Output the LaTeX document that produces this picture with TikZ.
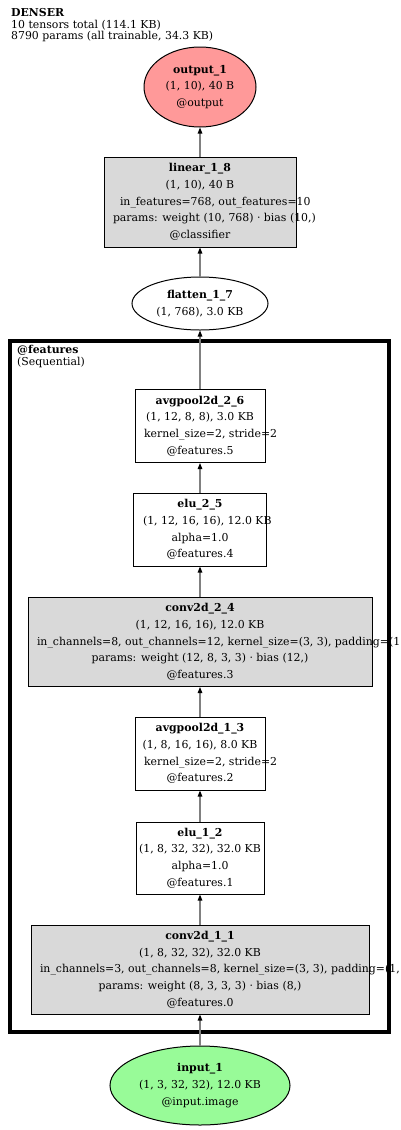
\documentclass[tikz,border=0pt]{standalone}
\usepackage{fontspec}
\setmainfont{DejaVu Serif}
\usetikzlibrary{arrows.meta,shapes.geometric}
\definecolor{outred}{RGB}{255,153,153}
\definecolor{ingreen}{RGB}{152,251,152}
\definecolor{boxgray}{RGB}{217,217,217}
\definecolor{edgegray}{RGB}{128,128,128}
\newcommand{\gvfont}{\fontsize{10.9pt}{16.7pt}\selectfont}
\newcommand{\wideline}[2]{\makebox[#1pt][l]{#2}}

\begin{document}
\begin{tikzpicture}[x=1pt,y=-1pt,
  layer/.style={draw, line width=1pt, inner sep=0pt, align=center, font=\gvfont},
  paramlayer/.style={layer, fill=boxgray},
  tensor/.style={layer, ellipse},
  edge/.style={draw=edgegray, line width=1.2pt, -{Triangle[length=6pt,width=4.5pt,black]}}]
\useasboundingbox (0,0) rectangle (400,1130);
% Header
\node[anchor=north west, inner sep=0pt, align=left, font=\fontsize{10.9pt}{11.8pt}\selectfont] (title) at (11,8)
  {\textbf{DENSER}\\10 tensors total (114.1 KB)\\8790 params (all trainable, 34.3 KB)};
% Cluster @features
\draw[line width=3.7pt] (10,341) rectangle (389,1032);
\node[anchor=north west, inner sep=0pt, align=left, font=\fontsize{10.9pt}{11.8pt}\selectfont] (featlabel) at (17,345)
  {\textbf{@features}\\(Sequential)};
% Output and classifier
\node[tensor, fill=outred, minimum width=112, minimum height=80] (output) at (200,87)
  {\textbf{output\_1}\\(1, 10), 40 B\\@output};
\node[paramlayer, minimum width=192, minimum height=90] (linear) at (200,202)
  {\textbf{linear\_1\_8}\\(1, 10), 40 B\\\wideline{160}{in\_features=768, out\_features=10}\\\wideline{174}{params: weight (10, 768) · bias (10,)}\\@classifier};
\node[tensor, minimum width=136, minimum height=53] (flatten) at (200,303.5)
  {\textbf{flatten\_1\_7}\\(1, 768), 3.0 KB};
% Features
\node[layer, minimum width=130, minimum height=73] (pool2) at (200,426)
  {\textbf{avgpool2d\_2\_6}\\(1, 12, 8, 8), 3.0 KB\\\wideline{112}{kernel\_size=2, stride=2}\\@features.5};
\node[layer, minimum width=133, minimum height=73] (elu2) at (200,529.5)
  {\textbf{elu\_2\_5}\\\wideline{114}{(1, 12, 16, 16), 12.0 KB}\\alpha=1.0\\@features.4};
\node[paramlayer, minimum width=344, minimum height=89] (conv2) at (200,642)
  {\textbf{conv2d\_2\_4}\\(1, 12, 16, 16), 12.0 KB\\\wideline{326}{in\_channels=8, out\_channels=12, kernel\_size=(3, 3), padding=(1}\\params: weight (12, 8, 3, 3) · bias (12,)\\@features.3};
\node[layer, minimum width=130, minimum height=73] (pool1) at (200,753.5)
  {\textbf{avgpool2d\_1\_3}\\(1, 8, 16, 16), 8.0 KB\\\wideline{112}{kernel\_size=2, stride=2}\\@features.2};
\node[layer, minimum width=128, minimum height=72] (elu1) at (200,858)
  {\textbf{elu\_1\_2}\\(1, 8, 32, 32), 32.0 KB\\alpha=1.0\\@features.1};
\node[paramlayer, minimum width=338, minimum height=89] (conv1) at (200,969.5)
  {\textbf{conv2d\_1\_1}\\(1, 8, 32, 32), 32.0 KB\\\wideline{320}{in\_channels=3, out\_channels=8, kernel\_size=(3, 3), padding=(1,}\\params: weight (8, 3, 3, 3) · bias (8,)\\@features.0};
% Input
\node[tensor, fill=ingreen, minimum width=180, minimum height=79] (input) at (200,1085.5)
  {\textbf{input\_1}\\(1, 3, 32, 32), 12.0 KB\\@input.image};
% Edges
\draw[edge] (linear) -- (output);
\draw[edge] (flatten) -- (linear);
\draw[edge] (pool2) -- (flatten);
\draw[edge] (elu2) -- (pool2);
\draw[edge] (conv2) -- (elu2);
\draw[edge] (pool1) -- (conv2);
\draw[edge] (elu1) -- (pool1);
\draw[edge] (conv1) -- (elu1);
\draw[edge] (input) -- (conv1);
\end{tikzpicture}
\end{document}
